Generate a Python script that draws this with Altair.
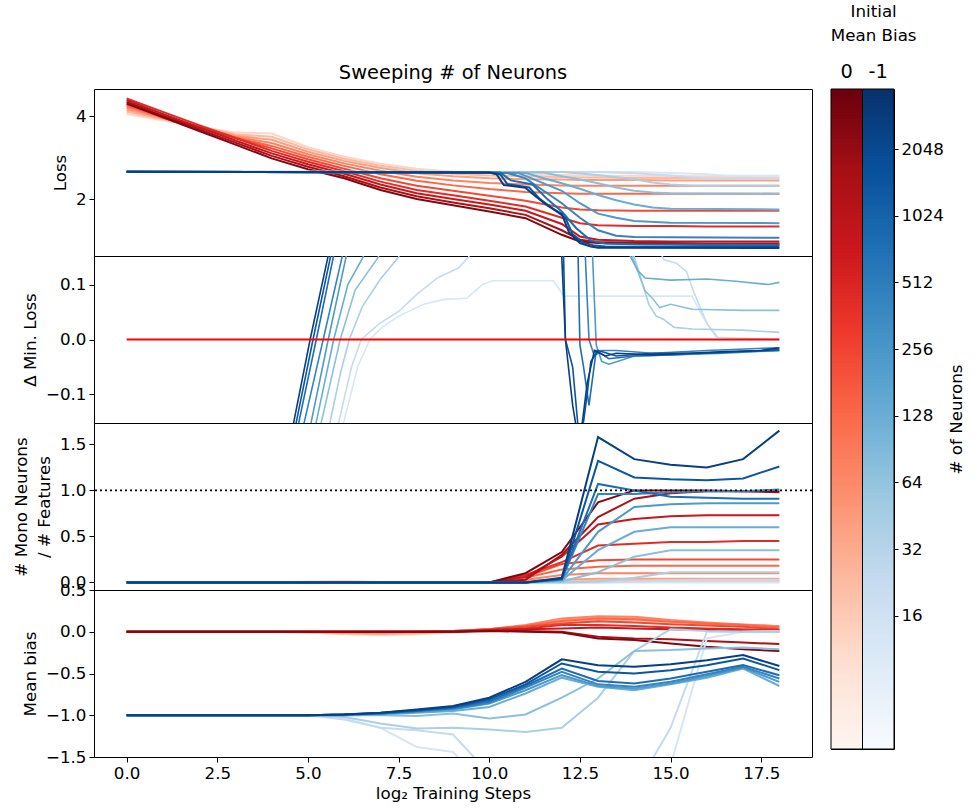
import math
import altair as alt
import numpy as np
import pandas as pd

# ---------------- data ----------------
# number of neurons per run, light -> dark
NEURONS = [12, 22, 40, 72, 128, 230, 420, 760, 1400, 2600]

STEPS = list(range(19))
RED_LOSS_STEPS = [0, 1, 2, 3, 4, 5, 6, 7, 8, 9, 10, 11, 12, 12.5, 13, 14, 15, 16, 17, 18]

LOSS_RED = [
    [4.05, 3.90, 3.75, 3.60, 3.58, 3.25, 3.02, 2.85, 2.73, 2.66, 2.62, 2.60, 2.58, 2.57, 2.56, 2.56, 2.55, 2.55, 2.55, 2.55],
    [4.10, 3.92, 3.74, 3.56, 3.50, 3.20, 2.97, 2.80, 2.68, 2.61, 2.57, 2.55, 2.53, 2.52, 2.52, 2.51, 2.51, 2.50, 2.50, 2.50],
    [4.15, 3.94, 3.73, 3.53, 3.43, 3.14, 2.92, 2.75, 2.62, 2.55, 2.50, 2.48, 2.47, 2.46, 2.46, 2.46, 2.45, 2.45, 2.45, 2.45],
    [4.20, 3.96, 3.73, 3.50, 3.35, 3.08, 2.86, 2.68, 2.54, 2.45, 2.39, 2.35, 2.33, 2.32, 2.32, 2.32, 2.32, 2.32, 2.32, 2.32],
    [4.24, 3.98, 3.73, 3.48, 3.28, 3.02, 2.80, 2.60, 2.44, 2.33, 2.24, 2.17, 2.14, 2.13, 2.13, 2.13, 2.13, 2.13, 2.13, 2.13],
    [4.28, 4.00, 3.73, 3.47, 3.22, 2.96, 2.73, 2.50, 2.32, 2.20, 2.08, 1.96, 1.80, 1.75, 1.73, 1.72, 1.72, 1.72, 1.72, 1.72],
    [4.42, 4.10, 3.78, 3.47, 3.16, 2.90, 2.67, 2.42, 2.22, 2.09, 1.96, 1.82, 1.55, 1.42, 1.37, 1.35, 1.35, 1.34, 1.34, 1.34],
    [4.38, 4.05, 3.73, 3.41, 3.10, 2.84, 2.61, 2.35, 2.14, 2.00, 1.87, 1.72, 1.40, 1.10, 1.02, 0.99, 0.98, 0.98, 0.98, 0.98],
    [4.34, 4.01, 3.68, 3.36, 3.04, 2.78, 2.55, 2.28, 2.07, 1.92, 1.78, 1.62, 1.25, 1.02, 0.97, 0.95, 0.94, 0.93, 0.93, 0.93],
    [4.30, 3.97, 3.64, 3.31, 2.98, 2.72, 2.50, 2.22, 2.00, 1.85, 1.70, 1.54, 1.14, 0.98, 0.94, 0.92, 0.91, 0.90, 0.90, 0.90],
]

LOSS_BLUE = [
    [[0, 2.66], [14, 2.65], [15, 2.63], [16, 2.6], [16.5, 2.57], [17, 2.56], [18, 2.56]],
    [[0, 2.66], [13, 2.65], [14, 2.62], [15, 2.57], [15.5, 2.53], [16, 2.5], [18, 2.5]],
    [[0, 2.66], [12, 2.65], [13, 2.58], [14, 2.48], [14.5, 2.4], [15, 2.35], [15.5, 2.33], [16, 2.32], [18, 2.32]],
    [[0, 2.66], [11.5, 2.64], [12, 2.55], [12.5, 2.47], [13, 2.38], [13.5, 2.28], [14, 2.2], [14.5, 2.16], [15, 2.14], [18, 2.13]],
    [[0, 2.66], [11, 2.63], [11.5, 2.5], [12, 2.38], [12.5, 2.25], [13, 2.1], [13.5, 1.97], [14, 1.87], [14.5, 1.8], [15, 1.77], [18, 1.75]],
    [[0, 2.66], [10.8, 2.63], [11.3, 2.45], [12, 2.2], [12.5, 1.9], [13, 1.65], [13.5, 1.55], [14, 1.47], [15, 1.43], [18, 1.42]],
    [[0, 2.66], [10.5, 2.63], [11, 2.5], [11.5, 2.2], [12, 1.9], [12.5, 1.55], [13, 1.25], [13.5, 1.12], [14, 1.09], [15, 1.08], [18, 1.07]],
    [[0, 2.66], [10.3, 2.64], [10.6, 2.45], [11.2, 2.35], [11.6, 2.0], [12, 1.7], [12.4, 1.3], [12.8, 1.0], [13.2, 0.93], [14, 0.91], [18, 0.9]],
    [[0, 2.66], [10, 2.64], [10.3, 2.6], [10.5, 2.36], [11.1, 2.28], [11.4, 2.0], [11.7, 1.8], [12.1, 1.55], [12.3, 1.15], [12.6, 0.95], [12.9, 0.88], [13.2, 0.86], [18, 0.85]],
    [[0, 2.66], [10, 2.64], [10.2, 2.6], [10.4, 2.34], [11, 2.27], [11.3, 2.05], [11.6, 1.85], [12, 1.64], [12.2, 1.2], [12.5, 0.94], [12.8, 0.86], [13, 0.83], [18, 0.82]],
]

DELTA_RED = [[0, 0.0], [18, 0.0]]

DELTA_BLUE = [
    [[0, -1.4], [4, -0.75], [5.5, -0.35], [5.99, -0.15], [6.37, -0.05], [6.71, 0.0], [7.04, 0.022], [7.52, 0.043], [8.19, 0.064], [8.76, 0.073], [9.38, 0.075], [9.81, 0.1], [10.1, 0.107], [11.77, 0.107], [12.06, 0.079], [15.59, 0.079], [15.9, 0.04], [16.3, 0.0], [18, 0.0]],
    [[0, -1.45], [4, -0.7], [5.3, -0.3], [5.85, -0.15], [6.2, -0.05], [6.47, 0.0], [6.95, 0.028], [7.52, 0.052], [8.0, 0.082], [8.57, 0.112], [9.15, 0.13], [9.43, 0.15], [10, 0.25], [14, 0.25], [14.82, 0.145], [15.16, 0.139], [15.44, 0.124], [15.63, 0.088], [15.82, 0.058], [16.01, 0.028], [16.3, 0.004], [18, 0.0]],
    [[0, -1.5], [4, -0.6], [5.61, -0.15], [5.9, -0.06], [6.14, 0.0], [6.5, 0.06], [7.0, 0.11], [7.5, 0.15], [8, 0.25], [13, 0.3], [14.0, 0.15], [14.4, 0.064], [14.6, 0.043], [14.8, 0.037], [15.1, 0.022], [15.6, 0.019], [17, 0.017], [18, 0.013]],
    [[0, -1.5], [4, -0.55], [5.37, -0.15], [5.89, 0.0], [6.3, 0.09], [6.94, 0.15], [7.5, 0.3], [13, 0.3], [13.95, 0.15], [14.3, 0.088], [14.5, 0.075], [14.7, 0.058], [15, 0.064], [15.6, 0.055], [17, 0.053], [18, 0.053]],
    [[0, -1.55], [4, -0.5], [5.23, -0.15], [5.71, 0.0], [6.1, 0.1], [6.52, 0.15], [7, 0.3], [13, 0.3], [13.9, 0.15], [14.1, 0.125], [14.3, 0.112], [15.0, 0.108], [16.0, 0.11], [16.8, 0.106], [17.7, 0.1], [18, 0.104]],
    [[0, -1.55], [4, -0.45], [5.09, -0.15], [5.56, 0.0], [6.05, 0.15], [6.5, 0.3], [12.8, 0.3], [12.85, 0.15], [12.95, -0.01], [13.1, -0.04], [13.3, -0.045], [14, -0.03], [15, -0.028], [16.5, -0.025], [18, -0.02]],
    [[0, -1.6], [4, -0.42], [4.9, -0.15], [5.42, 0.0], [5.94, 0.15], [6.5, 0.3], [12.6, 0.3], [12.65, 0.15], [12.75, 0.0], [12.9, -0.03], [13.1, -0.02], [13.5, -0.02], [14.5, -0.025], [16, -0.02], [18, -0.015]],
    [[0, -1.6], [4, -0.38], [4.75, -0.15], [5.23, 0.0], [5.7, 0.15], [6.2, 0.3], [12.4, 0.3], [12.45, 0.15], [12.5, -0.01], [12.6, -0.05], [12.75, -0.12], [12.85, -0.07], [12.95, -0.02], [13.3, -0.035], [14, -0.03], [15, -0.028], [16.5, -0.023], [18, -0.02]],
    [[0, -1.6], [4, -0.37], [4.68, -0.15], [5.14, 0.0], [5.62, 0.15], [6.1, 0.3], [11.95, 0.3], [12.05, 0.15], [12.1, 0.0], [12.3, -0.05], [12.45, -0.16], [12.6, -0.15], [12.7, -0.1], [12.8, -0.04], [13.0, -0.02], [13.5, -0.03], [14.5, -0.025], [16, -0.025], [17.5, -0.02], [18, -0.018]],
    [[0, -1.6], [4, -0.35], [4.61, -0.15], [5.06, 0.0], [5.55, 0.15], [6, 0.3], [11.9, 0.3], [12.0, 0.15], [12.1, 0.0], [12.3, -0.12], [12.4, -0.16], [12.55, -0.16], [12.7, -0.08], [12.9, -0.02], [13.2, -0.03], [13.5, -0.025], [14.5, -0.028], [15.5, -0.025], [16.5, -0.022], [17.5, -0.02], [18, -0.015]],
]

MONO_RED = [
    [0, 0, 0, 0, 0, 0.01, 0.01, 0.005, 0, 0, 0, 0, 0.005, 0.005, 0.005, 0.005, 0.005, 0.005, 0.005],
    [0, 0, 0, 0, 0, 0.005, 0.01, 0.005, 0, 0, 0, 0.005, 0.01, 0.015, 0.015, 0.015, 0.015, 0.015, 0.015],
    [0, 0, 0, 0, 0, 0, 0, 0, 0, 0, 0, 0.02, 0.03, 0.04, 0.04, 0.04, 0.04, 0.04, 0.04],
    [0, 0, 0, 0, 0, 0, 0, 0, 0, 0, 0, 0.03, 0.08, 0.10, 0.10, 0.10, 0.10, 0.10, 0.10],
    [0, 0, 0, 0, 0, 0, 0, 0, 0, 0, 0, 0.05, 0.14, 0.17, 0.18, 0.18, 0.18, 0.18, 0.18],
    [0, 0, 0, 0, 0, 0, 0, 0, 0, 0, 0, 0.06, 0.20, 0.24, 0.25, 0.25, 0.25, 0.25, 0.25],
    [0, 0, 0, 0, 0, 0, 0, 0, 0, 0, 0, 0.08, 0.22, 0.40, 0.42, 0.44, 0.44, 0.45, 0.45],
    [0, 0, 0, 0, 0, 0, 0, 0, 0, 0, 0, 0.06, 0.28, 0.63, 0.69, 0.72, 0.73, 0.73, 0.73],
    [0, 0, 0, 0, 0, 0, 0, 0, 0, 0, 0, 0.03, 0.30, 0.71, 0.91, 0.97, 0.99, 0.99, 0.98],
    [0, 0, 0, 0, 0, 0, 0, 0, 0, 0, 0, 0.10, 0.33, 0.87, 1.00, 1.00, 1.00, 0.99, 0.99],
]

MONO_BLUE = [
    [0, 0, 0, 0, 0, 0, 0, 0, 0, 0, 0, 0, 0, 0, 0, 0, 0, 0, 0],
    [0, 0, 0, 0, 0, 0, 0, 0, 0, 0, 0, 0, 0, 0, 0.01, 0.02, 0.03, 0.03, 0.03],
    [0, 0, 0, 0, 0, 0, 0, 0, 0, 0, 0, 0, 0.0, 0.01, 0.05, 0.11, 0.11, 0.11, 0.11],
    [0, 0, 0, 0, 0, 0, 0, 0, 0, 0, 0, 0, 0.01, 0.11, 0.28, 0.35, 0.35, 0.35, 0.35],
    [0, 0, 0, 0, 0, 0, 0, 0, 0, 0, 0, 0, 0.02, 0.35, 0.55, 0.60, 0.60, 0.60, 0.60],
    [0, 0, 0, 0, 0, 0, 0, 0, 0, 0, 0, 0, 0.03, 0.55, 0.82, 0.85, 0.86, 0.86, 0.86],
    [0, 0, 0, 0, 0, 0, 0, 0, 0, 0, 0, 0, 0.03, 0.96, 0.96, 0.98, 0.99, 0.99, 1.01],
    [0, 0, 0, 0, 0, 0, 0, 0, 0, 0, 0, 0, 0.04, 1.07, 1.00, 0.93, 0.92, 0.91, 0.91],
    [0, 0, 0, 0, 0, 0, 0, 0, 0, 0, 0, 0, 0.04, 1.32, 1.14, 1.12, 1.11, 1.13, 1.26],
    [0, 0, 0, 0, 0, 0, 0, 0, 0, 0, 0, 0, 0.05, 1.58, 1.34, 1.28, 1.25, 1.34, 1.65],
]

BIAS_RED = [
    [0, 0, 0, 0, 0, -0.01, -0.03, -0.04, -0.03, -0.01, 0.02, 0.05, 0.10, 0.12, 0.12, 0.10, 0.08, 0.07, 0.06],
    [0, 0, 0, 0, 0, -0.01, -0.02, -0.03, -0.02, 0.0, 0.02, 0.06, 0.12, 0.14, 0.14, 0.12, 0.10, 0.08, 0.065],
    [0, 0, 0, 0, 0, 0, -0.01, -0.02, -0.01, 0.0, 0.03, 0.07, 0.14, 0.17, 0.16, 0.13, 0.10, 0.085, 0.067],
    [0, 0, 0, 0, 0, 0, -0.01, -0.01, 0.0, 0.01, 0.03, 0.08, 0.16, 0.187, 0.18, 0.14, 0.11, 0.087, 0.067],
    [0, 0, 0, 0, 0, 0, 0, 0, 0, 0.01, 0.03, 0.07, 0.13, 0.16, 0.15, 0.12, 0.10, 0.08, 0.05],
    [0, 0, 0, 0, 0, 0, 0, 0, 0, 0.01, 0.03, 0.06, 0.10, 0.127, 0.11, 0.09, 0.075, 0.06, 0.03],
    [0, 0, 0, 0, 0, 0, 0, 0, 0, 0.0, 0.02, 0.04, 0.08, 0.08, 0.07, 0.05, 0.04, 0.03, 0.02],
    [0, 0, 0, 0, 0, 0, 0, 0, 0, 0.0, 0.02, 0.03, 0.04, 0.05, 0.04, 0.03, 0.02, 0.01, 0.0],
    [0, 0, 0, 0, 0, 0, 0, 0, 0, 0.0, 0.01, 0.01, 0.0, -0.06, -0.08, -0.09, -0.11, -0.13, -0.147],
    [0, 0, 0, 0, 0, 0, 0, 0, 0, 0.0, 0.01, 0.0, -0.01, -0.08, -0.10, -0.14, -0.18, -0.21, -0.23],
]

BIAS_BLUE = [
    [-1, -1, -1, -1, -1, -1.0, -1.04, -1.15, -1.38, -1.44, -1.9, -2.5, -2.8, -2.8, -2.4, -1.6, -0.08, 0.0, 0.0],
    [-1, -1, -1, -1, -1, -1.0, -1.05, -1.15, -1.18, -1.23, -1.7, -2.3, -2.6, -2.5, -1.9, -1.15, 0.0, 0.0, 0.01],
    [-1, -1, -1, -1, -1, -1.0, -1.02, -1.10, -1.16, -1.15, -1.17, -1.20, -1.15, -0.79, -0.23, 0.03, 0.01, 0.0, 0.0],
    [-1, -1, -1, -1, -1, -1.0, -1.0, -1.0, -1.01, -0.98, -1.04, -0.99, -0.79, -0.56, -0.23, -0.22, -0.20, -0.19, -0.21],
    [-1, -1, -1, -1, -1, -1.0, -1.0, -0.99, -0.97, -0.95, -0.90, -0.74, -0.55, -0.66, -0.70, -0.63, -0.55, -0.44, -0.65],
    [-1, -1, -1, -1, -1, -1.0, -1.0, -0.98, -0.96, -0.93, -0.86, -0.70, -0.52, -0.65, -0.68, -0.62, -0.53, -0.43, -0.60],
    [-1, -1, -1, -1, -1, -1.0, -0.99, -0.98, -0.95, -0.92, -0.85, -0.67, -0.48, -0.63, -0.66, -0.60, -0.51, -0.42, -0.56],
    [-1, -1, -1, -1, -1, -1.0, -0.99, -0.98, -0.95, -0.91, -0.83, -0.65, -0.44, -0.59, -0.62, -0.56, -0.48, -0.40, -0.52],
    [-1, -1, -1, -1, -1, -1.0, -0.99, -0.97, -0.94, -0.90, -0.81, -0.63, -0.38, -0.48, -0.50, -0.46, -0.40, -0.32, -0.46],
    [-1, -1, -1, -1, -1, -1.0, -0.99, -0.97, -0.93, -0.89, -0.79, -0.60, -0.33, -0.40, -0.42, -0.39, -0.34, -0.28, -0.41],
]

COLOR_DOMAIN = [2, 11.9]          # log2(# of neurons) range of the colour bars
CB_TICKS = [4, 5, 6, 7, 8, 9, 10, 11]
BIAS_LABELS = ["0", "-1"]

# ColorBrewer ramps used by matplotlib's Reds / Blues
REDS = ["#fff5f0", "#fee0d2", "#fcbba1", "#fc9272", "#fb6a4a", "#ef3b2c", "#cb181d", "#a50f15", "#67000d"]
BLUES = ["#f7fbff", "#deebf7", "#c6dbef", "#9ecae1", "#6baed6", "#4292c6", "#2171b5", "#08519c", "#08306b"]

# ---------------- helpers ----------------
FONT = "DejaVu Sans"
FS = 16.7
W, H = 718, 167
XDOM = [-0.9, 18.9]

STOPS = list(np.linspace(COLOR_DOMAIN[0], COLOR_DOMAIN[1], len(REDS)))


def cscale(ramp):
    return alt.Scale(domain=STOPS, range=ramp, interpolate="rgb", clamp=True)


def grid_df(series, xs):
    rows = []
    for n, ys in zip(NEURONS, series):
        for x, y in zip(xs, ys):
            rows.append({"n": n, "c": math.log2(n), "x": x, "y": y})
    return pd.DataFrame(rows)


def pair_df(series):
    rows = []
    for n, pts in zip(NEURONS, series):
        for x, y in pts:
            rows.append({"n": n, "c": math.log2(n), "x": x, "y": y})
    return pd.DataFrame(rows)


def xenc(show):
    if show:
        ax = alt.Axis(values=[0, 2.5, 5, 7.5, 10, 12.5, 15, 17.5], format=".1f",
                      title="log\u2082 Training Steps", titlePadding=4)
    else:
        ax = None
    return alt.X("x:Q", scale=alt.Scale(domain=XDOM, nice=False, zero=False), axis=ax)


def yenc(domain, values, fmt, title):
    return alt.Y("y:Q", scale=alt.Scale(domain=domain, nice=False, zero=False),
                 axis=alt.Axis(values=values, format=fmt, title=title, titlePadding=6))


def lines(df, ramp, domain, values, fmt, title, show_x, sw):
    return alt.Chart(df).mark_line(strokeWidth=sw, clip=True).encode(
        x=xenc(show_x),
        y=yenc(domain, values, fmt, title),
        color=alt.Color("c:Q", scale=cscale(ramp), legend=None),
        detail="n:N",
    )


# ---------------- panel 1: loss ----------------
d1 = [0.63, 4.65]
p1 = alt.layer(
    lines(grid_df(LOSS_RED, RED_LOSS_STEPS), REDS, d1, [2, 4], "d", "Loss", False, 2),
    lines(pair_df(LOSS_BLUE), BLUES, d1, [2, 4], "d", "Loss", False, 2),
).resolve_scale(color="independent").properties(
    width=W, height=H,
    title=alt.TitleParams("Sweeping # of Neurons", fontSize=19.4, fontWeight="normal",
                          offset=6, anchor="middle", frame="group", font=FONT),
)

# ---------------- panel 2: delta min loss ----------------
d2 = [-0.152, 0.152]
t2 = "\u0394 Min. Loss"
red_zero = pd.DataFrame({"x": [p[0] for p in DELTA_RED], "y": [p[1] for p in DELTA_RED]})
p2 = alt.layer(
    lines(pair_df(DELTA_BLUE), BLUES, d2, [-0.1, 0.0, 0.1], ".1f", t2, False, 1.6),
    alt.Chart(red_zero).mark_line(color="#ff0000", strokeWidth=1.8, clip=True).encode(
        x=xenc(False), y=yenc(d2, [-0.1, 0.0, 0.1], ".1f", t2)),
).resolve_scale(color="independent").properties(width=W, height=H)

# ---------------- panel 3: mono neurons ----------------
d3 = [-0.0825, 1.7325]
t3 = ["# Mono Neurons", "/ # Features"]
ref_line = pd.DataFrame({"y": [1.0]})
p3 = alt.layer(
    lines(grid_df(MONO_RED, STEPS), REDS, d3, [0, 0.5, 1.0, 1.5], ".1f", t3, False, 2),
    lines(grid_df(MONO_BLUE, STEPS), BLUES, d3, [0, 0.5, 1.0, 1.5], ".1f", t3, False, 2),
    alt.Chart(ref_line).mark_rule(color="black", strokeDash=[2, 3], strokeWidth=1.6).encode(
        y=yenc(d3, [0, 0.5, 1.0, 1.5], ".1f", t3)),
).resolve_scale(color="independent").properties(width=W, height=H)

# ---------------- panel 4: mean bias ----------------
d4 = [-1.5, 0.5]
p4 = alt.layer(
    lines(grid_df(BIAS_RED, STEPS), REDS, d4, [-1.5, -1.0, -0.5, 0.0, 0.5], ".1f", "Mean bias", True, 2),
    lines(grid_df(BIAS_BLUE, STEPS), BLUES, d4, [-1.5, -1.0, -0.5, 0.0, 0.5], ".1f", "Mean bias", True, 2),
).resolve_scale(color="independent").properties(width=W, height=H)

main = alt.vconcat(p1, p2, p3, p4, spacing=0, bounds="flush")

# ---------------- colour bars ----------------
levels = np.arange(COLOR_DOMAIN[0], COLOR_DOMAIN[1], 0.05)
cb_rows = []
for b in BIAS_LABELS:
    for v in levels:
        cb_rows.append({"bias": b, "v": float(v), "v2": float(min(v + 0.08, COLOR_DOMAIN[1]))})
cb_df = pd.DataFrame(cb_rows)
frame_df = pd.DataFrame({"bias": BIAS_LABELS, "v": [COLOR_DOMAIN[0]] * 2, "v2": [COLOR_DOMAIN[1]] * 2})

cb_x = alt.X("bias:N", scale=alt.Scale(domain=BIAS_LABELS, paddingInner=0, paddingOuter=0),
             axis=alt.Axis(orient="top", title=None, ticks=False, tickSize=0, domain=False,
                           labelAngle=0, labelFontSize=19.4, labelPadding=8))
cb_y = alt.Y("v:Q", scale=alt.Scale(domain=COLOR_DOMAIN, nice=False, zero=False),
             axis=alt.Axis(orient="right", values=CB_TICKS, labelExpr="format(pow(2, datum.value), 'd')",
                           title="# of Neurons", titleAngle=270, titlePadding=22, tickSize=4,
                           labelPadding=3))

cb_red = alt.Chart(cb_df).transform_filter(alt.datum.bias == "0").mark_rect().encode(
    x=cb_x, y=cb_y, y2="v2:Q",
    color=alt.Color("v:Q", scale=cscale(REDS), legend=None))
cb_blue = alt.Chart(cb_df).transform_filter(alt.datum.bias == "-1").mark_rect().encode(
    x=cb_x, y=cb_y, y2="v2:Q",
    color=alt.Color("v:Q", scale=cscale(BLUES), legend=None))
cb_frame = alt.Chart(frame_df).mark_rect(filled=False, stroke="black", strokeWidth=1).encode(
    x=cb_x, y=cb_y, y2="v2:Q")

cbar = alt.layer(cb_red, cb_blue, cb_frame).resolve_scale(color="independent").properties(
    width=63, height=660)

chart = alt.hconcat(main, cbar, spacing=16).properties(
    title=alt.TitleParams(["Initial", "Mean Bias"], anchor="end", align="center", frame="bounds",
                          dx=-92, fontSize=FS, fontWeight="normal", lineHeight=24, offset=16, font=FONT),
    padding={"left": 12, "top": 3, "right": 5, "bottom": 5},
).configure(font=FONT).configure_view(
    stroke="black", strokeWidth=1
).configure_axis(
    labelFont=FONT, titleFont=FONT, labelFontSize=FS, titleFontSize=FS,
    labelColor="black", titleColor="black", tickColor="black", tickSize=5,
    domain=False, grid=False, labelPadding=3, titleFontWeight="normal",
    labelOverlap=False, labelFlush=False, labelBound=False, titleLineHeight=23,
).configure_title(font=FONT, color="black")

chart.save("out.html", embed_options={"renderer": "svg", "actions": False})
